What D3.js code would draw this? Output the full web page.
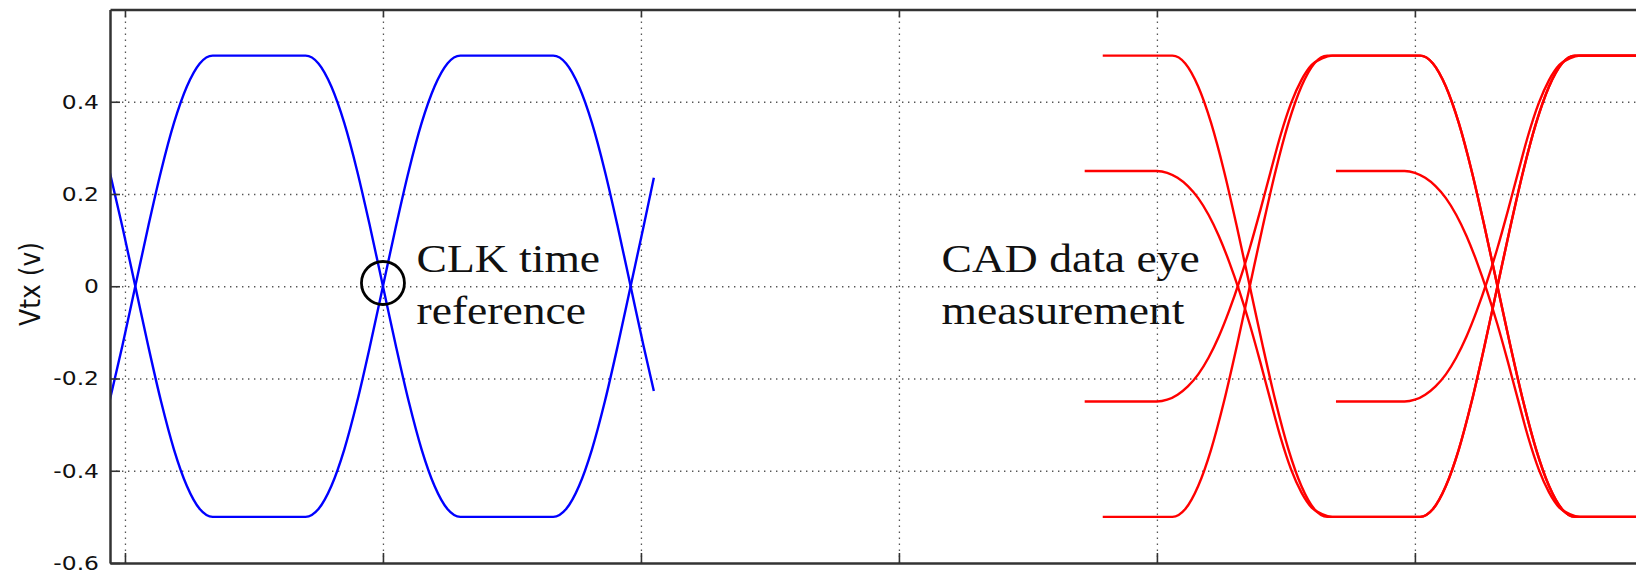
<!DOCTYPE html>
<html>
<head>
<meta charset="utf-8">
<script src="https://cdn.jsdelivr.net/npm/d3@7"></script>
<style>
  body { margin: 0; background: #fff; }
  svg { display: block; }
</style>
</head>
<body>
<svg id="chart"></svg>
<script>
// tick positions (time in ps, voltage in V)
const timeTicks = [0, 100, 200, 300, 400, 500];
const voltTicks = [-0.6, -0.4, -0.2, 0, 0.2, 0.4];

// CLK waveform (blue), two complementary traces
const clkTraceHigh = [[-6,0.25],[-1,0.129],[4,0],[9,-0.129],[14,-0.25],[19,-0.354],[24,-0.433],[29,-0.483],[34,-0.5],
  [70,-0.5],[75,-0.483],[80,-0.433],[85,-0.354],[90,-0.25],[95,-0.129],[100,0],[105,0.129],[110,0.25],[115,0.354],
  [120,0.433],[125,0.483],[130,0.5],[166,0.5],[171,0.483],[176,0.433],[181,0.354],[186,0.25],[191,0.129],[196,0],
  [201,-0.129],[205,-0.227]];
const clkTraceLow = [[-6,-0.25],[-1,-0.129],[4,0],[9,0.129],[14,0.25],[19,0.354],[24,0.433],[29,0.483],[34,0.5],
  [70,0.5],[75,0.483],[80,0.433],[85,0.354],[90,0.25],[95,0.129],[100,0],[105,-0.129],[110,-0.25],[115,-0.354],
  [120,-0.433],[125,-0.483],[130,-0.5],[166,-0.5],[171,-0.483],[176,-0.433],[181,-0.354],[186,-0.25],[191,-0.129],[196,0],
  [201,0.129],[205,0.235]];

// CAD data eye (red), one array per trace
const dqTraceA = [[379,0.5],[406,0.5],[411,0.483],[416,0.433],[421,0.354],[426,0.25],[431,0.129],[436,0],[441,-0.129],
  [446,-0.25],[451,-0.354],[456,-0.433],[461,-0.483],[466,-0.5],[502,-0.5],[507,-0.483],[512,-0.433],[517,-0.354],
  [522,-0.25],[527,-0.129],[532,0],[537,0.129],[542,0.25],[547,0.354],[552,0.433],[557,0.483],[562,0.5],[590,0.5]];
const dqTraceB = [[372,0.25],[400,0.25],[404,0.246],[408,0.235],[412,0.217],[416,0.191],[420,0.155],[424,0.109],
  [428,0.053],[432,-0.011],[436,-0.083],[440,-0.163],[444,-0.247],[448,-0.329],[452,-0.397],[456,-0.447],[460,-0.48],
  [464,-0.494],[468,-0.5],[502,-0.5],[507,-0.483],[512,-0.433],[517,-0.354],[522,-0.25],[527,-0.129],[532,0],
  [537,0.129],[542,0.25],[547,0.354],[552,0.433],[557,0.483],[562,0.5],[590,0.5]];
const dqTraceC = [[372,-0.25],[400,-0.25],[404,-0.246],[408,-0.235],[412,-0.217],[416,-0.191],[420,-0.155],[424,-0.109],
  [428,-0.053],[432,0.011],[436,0.083],[440,0.163],[444,0.247],[448,0.329],[452,0.397],[456,0.447],[460,0.48],
  [464,0.494],[468,0.5],[502,0.5],[507,0.483],[512,0.433],[517,0.354],[522,0.25],[527,0.129],[532,0],
  [537,-0.129],[542,-0.25],[547,-0.354],[552,-0.433],[557,-0.483],[562,-0.5],[590,-0.5]];
const dqTraceD = [[379,-0.5],[406,-0.5],[411,-0.483],[416,-0.433],[421,-0.354],[426,-0.25],[431,-0.129],[436,0],[441,0.129],
  [446,0.25],[451,0.354],[456,0.433],[461,0.483],[466,0.5],[502,0.5],[507,0.483],[512,0.433],[517,0.354],
  [522,0.25],[527,0.129],[532,0],[537,-0.129],[542,-0.25],[547,-0.354],[552,-0.433],[557,-0.483],[562,-0.5],[590,-0.5]];
const dqTraceE = [[469.4,0.25],[496,0.25],[500,0.246],[504,0.235],[508,0.217],[512,0.191],[516,0.155],[520,0.109],
  [524,0.053],[528,-0.011],[532,-0.083],[536,-0.163],[540,-0.247],[544,-0.329],[548,-0.397],[552,-0.447],[556,-0.48],
  [560,-0.494],[564,-0.5],[590,-0.5]];
const dqTraceF = [[469.4,-0.25],[496,-0.25],[500,-0.246],[504,-0.235],[508,-0.217],[512,-0.191],[516,-0.155],[520,-0.109],
  [524,-0.053],[528,0.011],[532,0.083],[536,0.163],[540,0.247],[544,0.329],[548,0.397],[552,0.447],[556,0.48],
  [560,0.494],[564,0.5],[590,0.5]];

const clkTraces = [clkTraceHigh, clkTraceLow];
const dqTraces = [dqTraceA, dqTraceB, dqTraceC, dqTraceD, dqTraceE, dqTraceF];

const config = {
  width: 1636,
  height: 571,
  plot: { left: 110, right: 1636, top: 9.5, bottom: 563 }
};

const svg = d3.select("#chart")
  .attr("width", config.width)
  .attr("height", config.height);

svg.append("rect").attr("width", config.width).attr("height", config.height).attr("fill", "#fff");

const x = d3.scaleLinear().domain([-5.8, 585.7]).range([config.plot.left, config.plot.right]);
const y = d3.scaleLinear().domain([-0.6, 0.6]).range([config.plot.bottom, config.plot.top]);
const plotH = config.plot.bottom - config.plot.top;
const plotW = config.plot.right - config.plot.left;

// grid lines
svg.append("g")
  .attr("class", "grid")
  .attr("transform", `translate(0,${config.plot.bottom})`)
  .call(d3.axisBottom(x).tickValues(timeTicks).tickSize(-plotH).tickFormat(""));
svg.append("g")
  .attr("class", "grid")
  .attr("transform", `translate(${config.plot.left},0)`)
  .call(d3.axisLeft(y).tickValues(voltTicks.filter(d => d > -0.6)).tickSize(-plotW).tickFormat(""));
svg.selectAll(".grid .domain").remove();
svg.selectAll(".grid line")
  .attr("stroke", "#555")
  .attr("stroke-width", 1.3)
  .attr("stroke-dasharray", "1.4,4.6");

// traces
svg.append("clipPath").attr("id", "plot-clip")
  .append("rect")
  .attr("x", config.plot.left).attr("y", config.plot.top)
  .attr("width", plotW).attr("height", plotH);

const line = d3.line()
  .x(d => x(d[0]))
  .y(d => y(d[1]))
  .curve(d3.curveMonotoneX);

const traces = svg.append("g").attr("clip-path", "url(#plot-clip)");
traces.selectAll(".clk")
  .data(clkTraces)
  .join("path")
  .attr("class", "clk")
  .attr("d", line)
  .attr("fill", "none")
  .attr("stroke", "#0000ff")
  .attr("stroke-width", 2.4);
traces.selectAll(".dq")
  .data(dqTraces)
  .join("path")
  .attr("class", "dq")
  .attr("d", line)
  .attr("fill", "none")
  .attr("stroke", "#ff0000")
  .attr("stroke-width", 2.4);

// axes: ticks point inward, frame lines from the domain paths
const xAxisBottom = svg.append("g")
  .attr("transform", `translate(0,${config.plot.bottom})`)
  .call(d3.axisBottom(x).tickValues(timeTicks).tickSizeInner(-10).tickSizeOuter(0).tickFormat(""));
const xAxisTop = svg.append("g")
  .attr("transform", `translate(0,${config.plot.top})`)
  .call(d3.axisTop(x).tickValues(timeTicks).tickSizeInner(-8).tickSizeOuter(0).tickFormat(""));
const yAxis = svg.append("g")
  .attr("transform", `translate(${config.plot.left},0)`)
  .call(d3.axisLeft(y).tickValues(voltTicks).tickSizeInner(-10).tickSizeOuter(0).tickPadding(11)
    .tickFormat(d => String(d)));

[xAxisBottom, xAxisTop, yAxis].forEach(g => {
  g.select(".domain").attr("stroke", "#333").attr("stroke-width", 2.5);
  g.selectAll(".tick line").attr("stroke", "#333").attr("stroke-width", 1.6);
});

yAxis.selectAll("text")
  .attr("fill", "#111")
  .style("font-family", "'DejaVu Sans', Verdana, sans-serif")
  .style("font-size", "20px")
  .each(function() {
    const len = this.getComputedTextLength();
    d3.select(this).attr("textLength", len * 1.17).attr("lengthAdjust", "spacingAndGlyphs");
  });

// axis title
svg.append("text")
  .attr("transform", `translate(40,${y(0.005)}) rotate(-90) scale(1,1.15)`)
  .attr("text-anchor", "middle")
  .attr("fill", "#111")
  .style("font-family", "'DejaVu Sans', Verdana, sans-serif")
  .style("font-size", "25px")
  .text("Vtx (v)");

// annotations
svg.append("circle")
  .attr("cx", x(100))
  .attr("cy", y(0.007))
  .attr("r", 21.5)
  .attr("fill", "none")
  .attr("stroke", "#000")
  .attr("stroke-width", 2.8);

const notes = [
  { t: 113, v: 0.031, text: "CLK time" },
  { t: 113, v: -0.082, text: "reference" },
  { t: 316.5, v: 0.031, text: "CAD data eye" },
  { t: 316.5, v: -0.082, text: "measurement" }
];
svg.selectAll(".note")
  .data(notes)
  .join("text")
  .attr("class", "note")
  .attr("transform", d => `translate(${x(d.t)},${y(d.v)}) scale(1.14,1)`)
  .attr("fill", "#111")
  .style("font-family", "'Liberation Serif', 'Times New Roman', serif")
  .style("font-size", "40px")
  .text(d => d.text);
</script>
</body>
</html>
